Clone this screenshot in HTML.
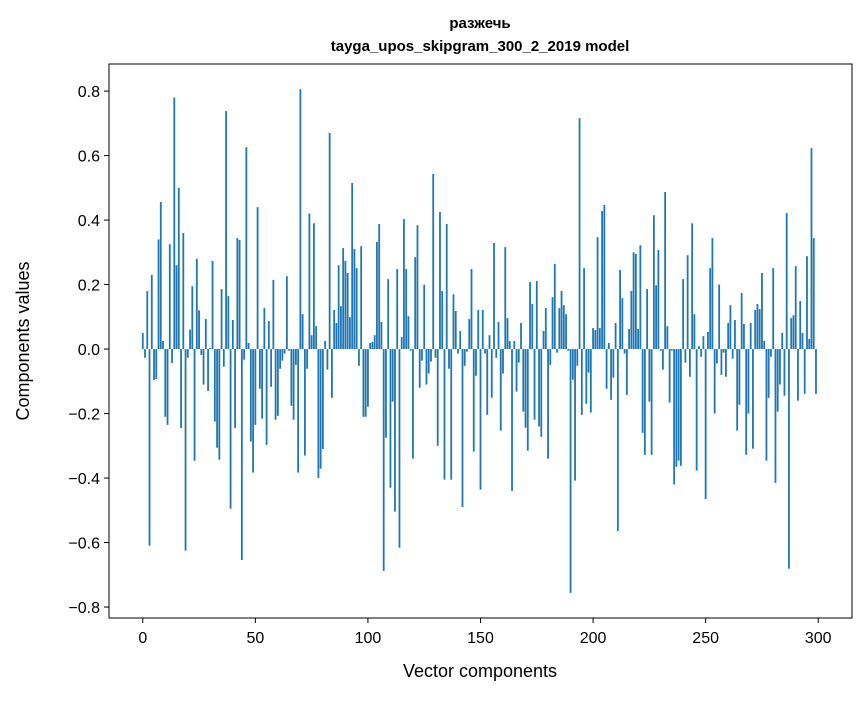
<!DOCTYPE html>
<html><head><meta charset="utf-8"><style>
body{margin:0;background:#fff}
svg text{font-family:"Liberation Sans","DejaVu Sans",sans-serif;fill:#000}
</style></head><body>
<svg id="chart" width="867" height="696" xmlns="http://www.w3.org/2000/svg">
<rect width="867" height="696" fill="#fff"/>
<text x="480" y="28" text-anchor="middle" font-size="15" font-weight="bold">разжечь</text>
<text x="480" y="51" text-anchor="middle" font-size="15" font-weight="bold">tayga_upos_skipgram_300_2_2019 model</text>
<g id="bars"></g>
<rect x="109" y="64" width="743" height="554" fill="none" stroke="#000" stroke-width="1"/>
<g id="xt"></g>
<g id="yt"></g>
<text x="480" y="677" text-anchor="middle" font-size="18">Vector components</text>
<text transform="translate(29,341) rotate(-90)" text-anchor="middle" font-size="18">Components values</text>
</svg>
<script>
const values = [0.05,-0.027,0.18,-0.61,0.23,-0.096,-0.093,0.34,0.456,0.025,
-0.21,-0.235,0.325,-0.043,0.78,0.26,0.5,-0.245,0.36,-0.625,
-0.027,0.06,0.195,-0.346,0.28,0.12,-0.018,-0.11,0.093,-0.13,
0.003,0.273,-0.225,-0.306,-0.343,0.186,-0.055,0.738,0.164,-0.495,
0.09,-0.245,0.344,0.338,-0.654,-0.033,0.626,0.019,-0.287,-0.383,
-0.235,0.44,-0.123,-0.216,0.127,-0.297,0.087,-0.117,0.214,-0.219,
-0.207,-0.061,-0.036,-0.014,0.226,-0.005,-0.176,-0.219,-0.049,-0.383,
0.806,0.108,-0.33,-0.061,0.42,0.043,0.39,0.071,-0.4,-0.371,
-0.31,0.025,-0.064,0.67,-0.151,0.121,0.081,0.26,0.133,0.313,
0.273,0.236,0.099,0.515,0.31,0.251,-0.052,0.319,-0.21,-0.21,
-0.179,0.019,0.022,0.043,0.332,0.388,0.084,-0.688,-0.275,0.217,
-0.43,-0.163,-0.504,0.248,-0.616,0.037,0.403,0.248,0.102,-0.005,
-0.34,0.285,0.384,-0.12,-0.036,0.2,-0.11,-0.076,-0.039,0.543,
-0.027,-0.3,0.425,0.18,-0.405,0.388,-0.061,-0.405,0.17,0.118,
-0.014,0.056,-0.49,-0.052,-0.008,0.093,0.248,-0.318,-0.083,0.121,
-0.436,0.121,-0.014,-0.204,0.043,-0.151,0.329,-0.027,0.084,-0.253,
-0.076,0.316,0.096,0.025,-0.44,0.025,-0.132,-0.042,0.081,-0.194,
-0.244,-0.315,0.208,0.14,-0.219,0.211,-0.24,-0.272,0.056,0.127,
-0.34,-0.049,0.161,0.264,-0.011,0.127,0.18,0.136,0.108,-0.005,
-0.756,-0.095,-0.408,-0.052,0.716,-0.204,0.251,-0.17,-0.073,-0.197,
0.065,0.059,0.347,0.065,0.428,0.447,-0.123,0.019,-0.157,-0.089,
0.081,-0.564,0.245,0.158,-0.014,-0.142,0.062,0.18,0.3,0.295,
0.062,0.322,-0.26,-0.328,0.186,-0.163,-0.328,0.415,0.198,0.307,
-0.005,-0.064,0.487,0.071,-0.166,-0.005,-0.42,-0.365,-0.346,-0.362,
0.217,-0.042,0.291,-0.086,0.39,0.108,-0.377,0.009,-0.024,0.04,
-0.465,0.053,0.251,0.344,-0.2,-0.045,0.2,-0.08,-0.011,-0.086,
0.081,0.136,-0.03,0.09,-0.253,-0.173,0.174,0.078,-0.328,-0.2,
0.081,-0.309,0.121,0.14,0.124,0.236,0.025,-0.346,-0.151,-0.024,
0.251,-0.415,-0.194,-0.11,0.05,-0.145,0.422,-0.681,0.096,0.105,
0.257,-0.16,0.149,0.05,-0.139,0.288,0.031,0.623,0.344,-0.139];
const xTicks = [0,50,100,150,200,250,300];
const yTicks = [-0.8,-0.6,-0.4,-0.2,0.0,0.2,0.4,0.6,0.8];
const NS="http://www.w3.org/2000/svg";
const X0=109,X1=852,Y0=64,Y1=618,xmin=-15,xmax=315,ymin=-0.834,ymax=0.884;
const sx=v=>X0+(v-xmin)/(xmax-xmin)*(X1-X0);
const sy=v=>Y1-(v-ymin)/(ymax-ymin)*(Y1-Y0);
const bars=document.getElementById('bars');
values.forEach((v,i)=>{
  const r=document.createElementNS(NS,'rect');
  
  
  const x=sx(i-0.4),w=sx(i+0.4)-x;
  const y=Math.min(sy(v),sy(0)),h=Math.abs(sy(v)-sy(0));
  r.setAttribute('x',x);r.setAttribute('y',y);r.setAttribute('width',w);r.setAttribute('height',Math.max(h,0.3));
  r.setAttribute('fill','#1f77b4');
  bars.appendChild(r);
});
const xt=document.getElementById('xt');
xTicks.forEach(t=>{
  const l=document.createElementNS(NS,'line');
  
  
  l.setAttribute('x1',sx(t));l.setAttribute('x2',sx(t));l.setAttribute('y1',Y1);l.setAttribute('y2',Y1+5);l.setAttribute('stroke','#000');
  xt.appendChild(l);
  const tx=document.createElementNS(NS,'text');
  
  
  tx.setAttribute('x',sx(t));tx.setAttribute('y',Y1+25);tx.setAttribute('text-anchor','middle');tx.setAttribute('font-size','16');
  tx.textContent=t;
  xt.appendChild(tx);
});
const yt=document.getElementById('yt');
yTicks.forEach(t=>{
  const l=document.createElementNS(NS,'line');
  
  
  l.setAttribute('x1',X0-5);l.setAttribute('x2',X0);l.setAttribute('y1',sy(t));l.setAttribute('y2',sy(t));l.setAttribute('stroke','#000');
  yt.appendChild(l);
  const tx=document.createElementNS(NS,'text');
  
  
  tx.setAttribute('x',X0-9);tx.setAttribute('y',sy(t)+6);tx.setAttribute('text-anchor','end');tx.setAttribute('font-size','16');
  tx.textContent=(t<0?'\u2212':'')+Math.abs(t).toFixed(1);
  yt.appendChild(tx);
});
</script>
</body></html>
